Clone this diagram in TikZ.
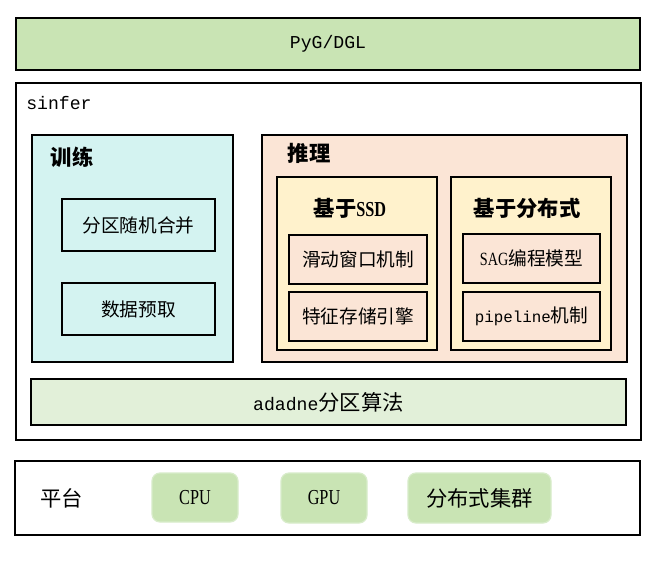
\documentclass[tikz,border=0pt]{standalone}
\usepackage{fontspec}
\setmainfont{Liberation Serif}[FakeStretch=0.76]
\newfontfamily\cjk{Noto Sans CJK SC}
\newfontfamily\mono[Scale=0.85]{Liberation Mono}
\usetikzlibrary{fit}
\definecolor{cgreen}{HTML}{C9E4B4}
\definecolor{cgreenb}{HTML}{D8ECCA}
\definecolor{ccyan}{HTML}{D4F3F1}
\definecolor{cpeach}{HTML}{FBE5D6}
\definecolor{cyellow}{HTML}{FFF2CC}
\definecolor{clgreen}{HTML}{E2F0D9}
\tikzset{
  box/.style={draw=black, line width=0.9pt, inner sep=0pt},
  plat/.style={draw=cgreenb, fill=cgreen, line width=0.9pt, rounded corners=6pt, inner sep=0pt},
  lab/.style={inner sep=0pt, font=\fontsize{16}{18}\selectfont\bfseries},
  txt/.style={inner sep=0pt, font=\fontsize{16}{18}\selectfont},
  stxt/.style={inner sep=0pt, font=\fontsize{14}{16}\selectfont}
}
\begin{document}
\begin{tikzpicture}[x=0.75pt,y=-0.75pt]
\useasboundingbox (0,0) rectangle (660,568);
% top layer
\node[box, fill=cgreen, fit={(16,18) (640,70)}] (pyg) {};
\node[txt] (pygt) at (pyg.center) {\mono PyG/DGL};
% sinfer
\node[box, fill=white, fit={(16,83) (641,440)}] (sinfer) {};
\node[txt, anchor=west] (sinferl) at (26,103) {\mono sinfer};
% training
\node[box, fill=ccyan, fit={(32,135) (233,362)}] (train) {};
\node[lab] (trainl) at (72,157) {\cjk 训练};
\node[box, fit={(62,199) (215,251)}] (p1) {};
\node[stxt] (p1t) at (p1.center) {\cjk 分区随机合并};
\node[box, fit={(62,283) (215,335)}] (p2) {};
\node[stxt] (p2t) at (p2.center) {\cjk 数据预取};
% inference
\node[box, fill=cpeach, fit={(262,135) (627,362)}] (infer) {};
\node[lab] (inferl) at (309,153) {\cjk 推理};
\node[box, fill=cyellow, fit={(277,177) (437,350)}] (ssd) {};
\node[lab] (ssdl) at (350,208) {{\cjk 基于}SSD};
\node[box, fill=cpeach, fit={(289,235) (427,284)}] (s1) {};
\node[stxt] (s1t) at (s1.center) {\cjk 滑动窗口机制};
\node[box, fill=cpeach, fit={(289,292) (427,341)}] (s2) {};
\node[stxt] (s2t) at (s2.center) {\cjk 特征存储引擎};
\node[box, fill=cyellow, fit={(451,177) (611,350)}] (dist) {};
\node[lab] (distl) at (527,208) {\cjk 基于分布式};
\node[box, fill=cpeach, fit={(463,234) (600,283)}] (d1) {};
\node[stxt] (d1t) at (d1.center) {SAG{\cjk 编程模型}};
\node[box, fill=cpeach, fit={(463,292) (600,341)}] (d2) {};
\node[stxt] (d2t) at (d2.center) {{\mono pipeline}{\cjk 机制}};
% partition
\node[box, fill=clgreen, fit={(31,379) (626,425)}] (ada) {};
\node[txt] (adat) at (ada.center) {{\mono adadne}{\cjk 分区算法}};
% platform
\node[box, fill=white, fit={(15,461) (640,535)}] (platform) {};
\node[txt] (platl) at (62,498) {\cjk 平台};
\node[plat, fit={(152,473) (238,522)}] (cpu) {};
\node[txt] (cput) at (cpu.center) {CPU};
\node[plat, fit={(281,473) (367,523)}] (gpu) {};
\node[txt] (gput) at (gpu.center) {GPU};
\node[plat, fit={(408,473) (551,523)}] (cluster) {};
\node[txt] (clustert) at (cluster.center) {\cjk 分布式集群};
\end{tikzpicture}
\end{document}
